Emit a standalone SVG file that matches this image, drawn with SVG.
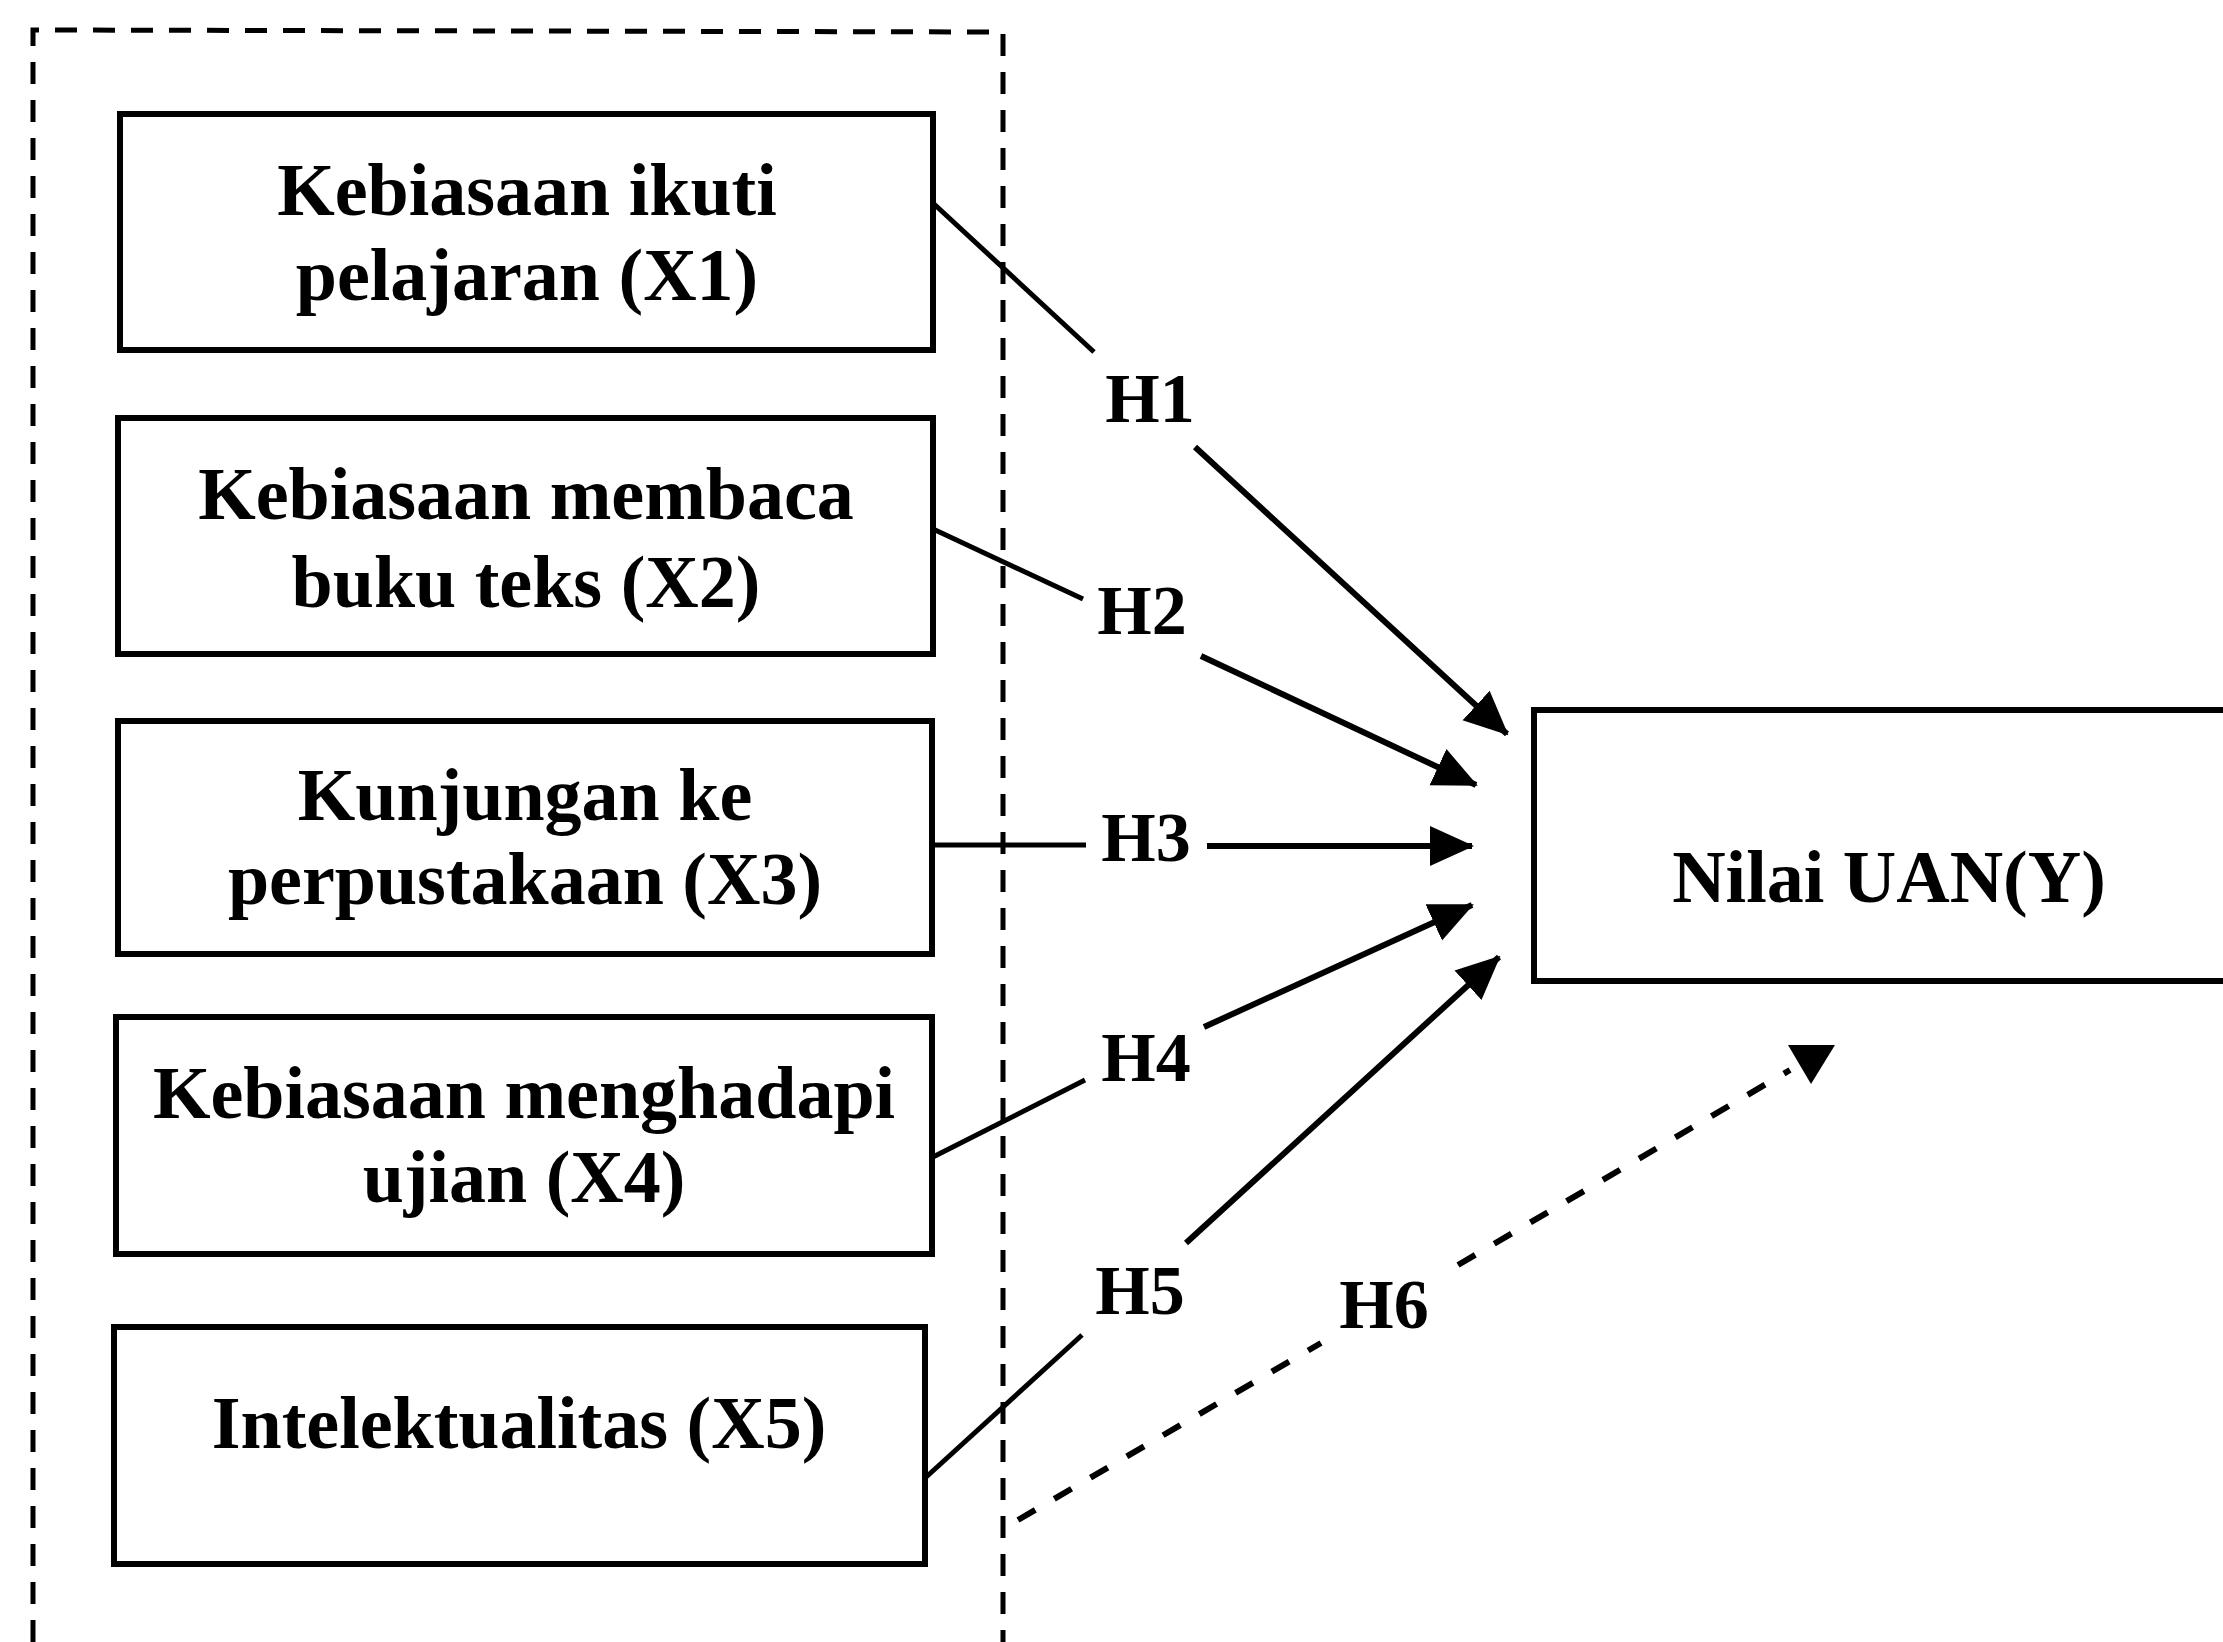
<svg xmlns="http://www.w3.org/2000/svg" width="2223" height="1642" viewBox="0 0 2223 1642">
<defs>
<style>
.box{fill:#fff;stroke:#000;stroke-width:6}
.t{font-family:"Liberation Serif","Times New Roman",serif;font-weight:bold;font-size:74px;fill:#000;text-anchor:middle}
.h{font-family:"Liberation Serif","Times New Roman",serif;font-weight:bold;font-size:70px;fill:#000;text-anchor:middle}
.seg{stroke:#000;stroke-width:5;fill:none}
.arr{stroke:#000;stroke-width:6;fill:none;marker-end:url(#ah)}
.frame{stroke:#000;stroke-width:5;fill:none;stroke-dasharray:22 16}
.dash{stroke:#000;stroke-width:6;fill:none;stroke-dasharray:20 22}
</style>
<marker id="ah" markerUnits="userSpaceOnUse" markerWidth="44" markerHeight="44" viewBox="0 0 44 44" refX="42" refY="22" orient="auto">
<path d="M0,2 L44,22 L0,42 z" fill="#000"/>
</marker>
</defs>
<rect width="2223" height="1642" fill="#fff"/>
<g id="frame">
<path class="frame" d="M33,1642 L33,30 L1003,32 L1003,1642"/>
</g>
<g id="connectors">
<line class="seg" x1="934" y1="204" x2="1094" y2="352"/>
<line class="arr" x1="1195" y1="447" x2="1507" y2="734"/>
<line class="seg" x1="933" y1="529" x2="1083" y2="599"/>
<line class="arr" x1="1201" y1="656" x2="1476" y2="785"/>
<line class="seg" x1="932" y1="845" x2="1086" y2="845"/>
<line class="arr" x1="1207" y1="846" x2="1472" y2="846"/>
<line class="seg" x1="931" y1="1158" x2="1085" y2="1080"/>
<line class="arr" x1="1204" y1="1027" x2="1472" y2="905"/>
<line class="seg" x1="924" y1="1479" x2="1082" y2="1335"/>
<line class="arr" x1="1186" y1="1243" x2="1499" y2="957"/>
<line class="dash" x1="1018" y1="1520" x2="1321" y2="1343"/>
<line class="dash" x1="1458" y1="1265" x2="1790" y2="1070"/>
<polygon points="1788,1045 1835,1045 1811,1084" fill="#000"/>
</g>
<g id="labels">
<text class="h" x="1150" y="422">H1</text>
<text class="h" x="1142" y="634">H2</text>
<text class="h" x="1146" y="861">H3</text>
<text class="h" x="1146" y="1081">H4</text>
<text class="h" x="1140" y="1314">H5</text>
<text class="h" x="1384" y="1328">H6</text>
</g>
<g id="x1">
<rect class="box" x="120" y="114" width="813" height="236"/>
<text class="t" x="527" y="215">Kebiasaan ikuti</text>
<text class="t" x="527" y="300">pelajaran (X1)</text>
</g>
<g id="x2">
<rect class="box" x="118" y="418" width="815" height="236"/>
<text class="t" x="526" y="519">Kebiasaan membaca</text>
<text class="t" x="526" y="607">buku teks (X2)</text>
</g>
<g id="x3">
<rect class="box" x="118" y="721" width="814" height="233"/>
<text class="t" x="525" y="820">Kunjungan ke</text>
<text class="t" x="525" y="904">perpustakaan (X3)</text>
</g>
<g id="x4">
<rect class="box" x="116" y="1017" width="816" height="237"/>
<text class="t" x="524" y="1118">Kebiasaan menghadapi</text>
<text class="t" x="524" y="1202">ujian (X4)</text>
</g>
<g id="x5">
<rect class="box" x="114" y="1327" width="811" height="237"/>
<text class="t" x="519" y="1448">Intelektualitas (X5)</text>
</g>
<g id="y">
<rect class="box" x="1534" y="710" width="760" height="271"/>
<text class="t" x="1889" y="902">Nilai UAN(Y)</text>
</g>
</svg>
